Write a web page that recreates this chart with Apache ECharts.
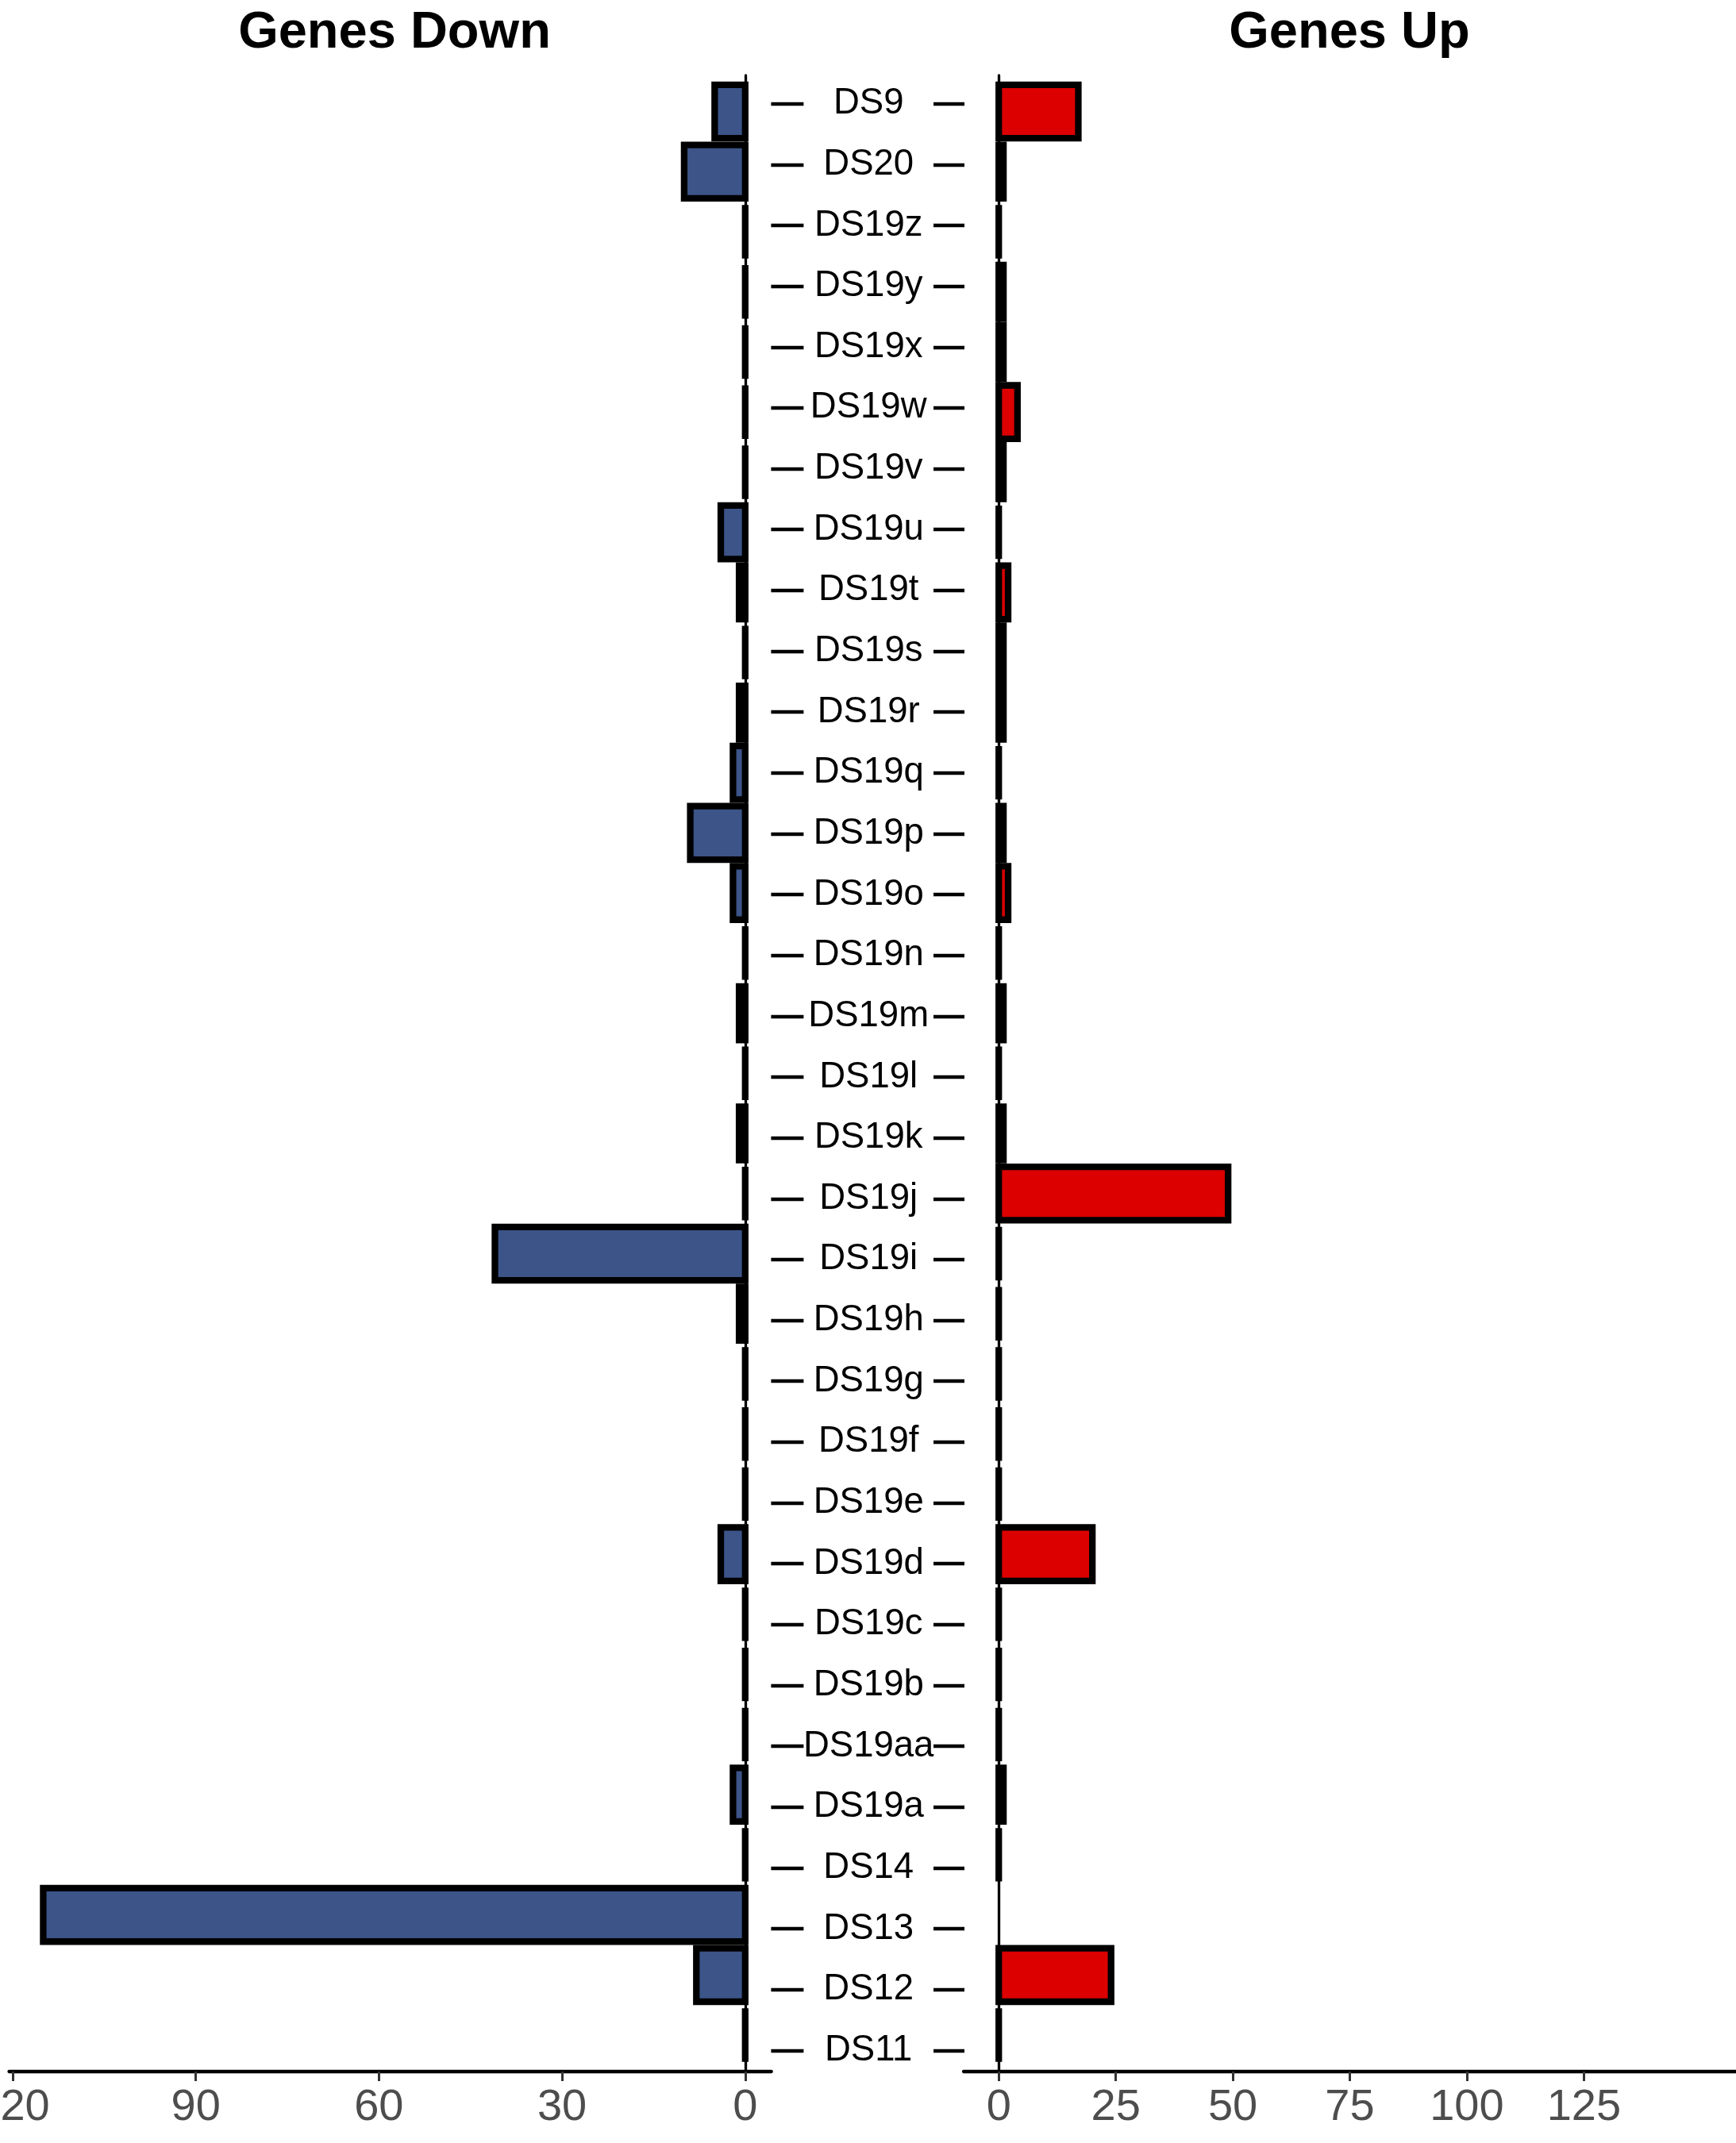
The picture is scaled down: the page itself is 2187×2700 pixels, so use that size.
<!DOCTYPE html>
<html><head><meta charset="utf-8">
<script src="https://cdn.jsdelivr.net/npm/echarts@6/dist/echarts.min.js"></script>
<style>html,body{margin:0;padding:0;background:#fff}#c{width:2187px;height:2700px}</style>
</head><body><div id="c"></div>
<script>
const categories = ['DS9','DS20','DS19z','DS19y','DS19x','DS19w','DS19v','DS19u','DS19t','DS19s','DS19r','DS19q','DS19p','DS19o','DS19n','DS19m','DS19l','DS19k','DS19j','DS19i','DS19h','DS19g','DS19f','DS19e','DS19d','DS19c','DS19b','DS19aa','DS19a','DS14','DS13','DS12','DS11'];
const genesDown = [5,10,0,0,0,0,0,4,1,0,1,2,9,2,0,1,0,1,0,41,1,0,0,0,4,0,0,0,2,0,115,8,0];
const genesUp = [17,1,0,1,1,4,1,0,2,1,1,0,1,2,0,1,0,1,49,0,0,0,0,0,20,0,0,0,1,0,null,24,0];
const downTicks = [0,30,60,90,120];
const upTicks = [0,25,50,75,100,125];
const downRange = [-4.28, 120.58];
const upRange = [-7.5, 157.5];

const FONT = 'Liberation Sans, Arial, Helvetica, sans-serif';
const LEFT_X = 11.5, LEFT_W = 960.2;
const RIGHT_X = 1214, RIGHT_W = 973;
const FRAME_TOP = 95, FRAME_H = 2515;
const BAR_TOP = 102.65, BAR_H = 2499.25;
const MID_X = 1012.4, MID_W = 163.6, MID_TOP = 92.4, MID_H = 2529.2;
const BAR_FRAC = 0.89, BORDER = 8.3;

function frameX(gi, range, inverse, ticks) {
  return {
    type: 'value', gridIndex: gi, inverse: inverse, min: range[0], max: range[1],
    axisLine: {show: true, onZero: false, lineStyle: {color: '#000', width: 4.3}},
    axisTick: {show: true, customValues: ticks, length: 12, lineStyle: {color: '#333', width: 3}},
    axisLabel: {show: true, customValues: ticks, fontSize: 56, color: '#4D4D4D', margin: 18, fontFamily: FONT, hideOverlap: false},
    splitLine: {show: false}
  };
}
function hiddenX(gi, range, inverse) {
  return {type: 'value', gridIndex: gi, inverse: inverse, min: range[0], max: range[1], show: false};
}
function zeroY(gi) {
  return {
    type: 'category', gridIndex: gi, inverse: true, data: categories,
    axisLine: {show: true, onZero: true, lineStyle: {color: '#000', width: 3.3}},
    axisTick: {show: false}, axisLabel: {show: false}, splitLine: {show: false}
  };
}
function hiddenY(gi) {
  return {type: 'category', gridIndex: gi, inverse: true, data: categories, show: false};
}
function grid(l, t, w, h) {
  return {left: l, top: t, width: w, height: h, containLabel: false, outerBoundsMode: 'none'};
}
function toPairs(values) {
  const out = [];
  values.forEach(function (v, i) { if (v !== null) out.push([v, i]); });
  return out;
}
function barSeries(name, xi, yi, values, color) {
  return {
    type: 'custom', name: name, xAxisIndex: xi, yAxisIndex: yi, silent: true, clip: false,
    encode: {x: 0, y: 1},
    data: toPairs(values),
    renderItem: function (params, api) {
      const v = api.value(0), idx = api.value(1);
      const p0 = api.coord([0, idx]);
      const p1 = api.coord([v, idx]);
      const band = api.size([0, 1])[1];
      const h = band * BAR_FRAC;
      return {
        type: 'rect',
        shape: {x: Math.min(p0[0], p1[0]), y: p0[1] - h / 2, width: Math.abs(p1[0] - p0[0]), height: h},
        style: {fill: color, stroke: '#000', lineWidth: BORDER, lineJoin: 'miter'}
      };
    }
  };
}

const chart = echarts.init(document.getElementById('c'), null, {renderer: 'canvas'});
chart.setOption({
  animation: false,
  backgroundColor: '#fff',
  title: [
    {text: 'Genes Down', left: 497, top: 10, textAlign: 'center', padding: 0,
     textStyle: {fontSize: 65, fontWeight: 'bold', color: '#000', fontFamily: FONT}},
    {text: 'Genes Up', left: 1700, top: 10, textAlign: 'center', padding: 0,
     textStyle: {fontSize: 65, fontWeight: 'bold', color: '#000', fontFamily: FONT}}
  ],
  grid: [
    grid(LEFT_X, FRAME_TOP, LEFT_W, FRAME_H),
    grid(LEFT_X, BAR_TOP, LEFT_W, BAR_H),
    grid(RIGHT_X, FRAME_TOP, RIGHT_W, FRAME_H),
    grid(RIGHT_X, BAR_TOP, RIGHT_W, BAR_H),
    grid(MID_X, MID_TOP, MID_W, MID_H)
  ],
  xAxis: [
    frameX(0, downRange, true, downTicks),
    hiddenX(1, downRange, true),
    frameX(2, upRange, false, upTicks),
    hiddenX(3, upRange, false),
    {type: 'value', gridIndex: 4, min: 0, max: 1, show: false}
  ],
  yAxis: [
    zeroY(0), hiddenY(1), zeroY(2), hiddenY(3),
    {type: 'category', gridIndex: 4, inverse: true, data: categories, position: 'left',
     axisLine: {show: false},
     axisTick: {show: true, alignWithLabel: true, interval: 0, length: 41, lineStyle: {color: '#000', width: 4.3}},
     axisLabel: {show: true, interval: 0, inside: true, margin: 81.8, align: 'center', fontSize: 45.5, color: '#000', fontFamily: FONT, padding: [4, 0, 0, 0]},
     splitLine: {show: false}},
    {type: 'category', gridIndex: 4, inverse: true, data: categories, position: 'right',
     axisLine: {show: false},
     axisTick: {show: true, alignWithLabel: true, interval: 0, length: 39, lineStyle: {color: '#000', width: 4.3}},
     axisLabel: {show: false}, splitLine: {show: false}}
  ],
  series: [
    barSeries('Genes Down', 1, 1, genesDown, '#3C5488'),
    barSeries('Genes Up', 3, 3, genesUp, '#DC0000')
  ]
});
</script>
</body></html>
